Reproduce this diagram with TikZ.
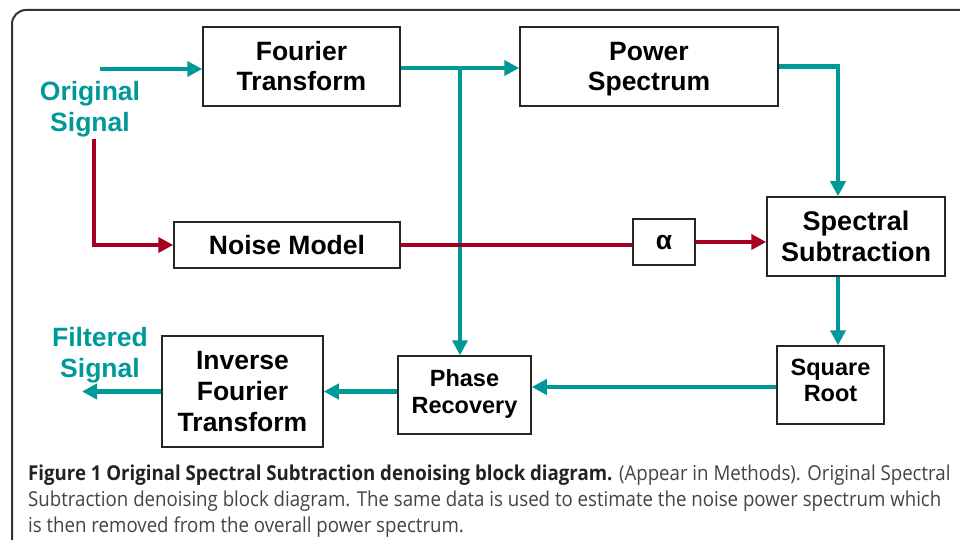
\documentclass[tikz,border=0pt]{standalone}
\usepackage{fontspec}
\setmainfont{Liberation Sans}
\newfontfamily\capfont[FakeStretch=0.91]{Open Sans}
\usetikzlibrary{arrows.meta}
\definecolor{teal1}{RGB}{0,153,153}
\definecolor{red1}{RGB}{165,0,33}
\definecolor{capgray}{RGB}{68,68,68}
\definecolor{capdark}{RGB}{34,34,34}
\newcommand\nodepth[1]{\raisebox{0pt}[\height][0pt]{#1}}
\tikzset{
  blk/.style={draw=black!85, line width=1.5pt, fill=white, align=center, font=\fontsize{26.5}{30}\selectfont\bfseries, inner sep=0pt},
  sblk/.style={blk, font=\fontsize{23.5}{26}\selectfont\bfseries},
  tarr/.style={draw=teal1, line width=4.5pt, -{Triangle[length=15pt,width=15pt]}},
  rarr/.style={draw=red1, line width=4.5pt, -{Triangle[length=15pt,width=15pt]}},
  sig/.style={text=teal1, align=center, font=\fontsize{26.5}{31}\selectfont\bfseries, inner sep=0pt},
  captext/.style={anchor=base west, inner sep=0pt, font=\capfont\fontsize{20.5}{24}\selectfont, text=capgray}
}
\begin{document}
\begin{tikzpicture}[x=1pt,y=-1pt]
\useasboundingbox (0,0) rectangle (960,540);
\fill[white] (0,0) rectangle (960,540);
\draw[black!80, line width=2pt, rounded corners=14pt] (12,560) -- (12,10) -- (980,10);

\node[blk, minimum width=197pt, minimum height=79pt] (ft) at (301.5,66.5) {Fourier\\Transform};
\node[blk, minimum width=258pt, minimum height=79pt] (ps) at (649,66.5) {Power\\\nodepth{Spectrum}};
\node[blk, minimum width=226pt, minimum height=46pt] (nm) at (287,245) {Noise Model};
\node[blk, minimum width=62pt, minimum height=46pt] (al) at (664,242) {α};
\node[blk, font=\fontsize{27}{31}\selectfont\bfseries, minimum width=178pt, minimum height=79pt] (ss) at (856,236.5) {Spectral\\Subtraction};
\node[sblk, minimum width=107pt, minimum height=78pt] (sr) at (830.5,385) {Square\\Root\rule[-10pt]{0pt}{0pt}};
\node[sblk, font=\fontsize{23.5}{27}\selectfont\bfseries, minimum width=133pt, minimum height=78pt] (pr) at (464.5,395) {Phase\\Recovery\rule[-8pt]{0pt}{0pt}};
\node[blk, font=\fontsize{26.5}{31}\selectfont\bfseries, minimum width=161pt, minimum height=111pt] (ift) at (242.5,391.5) {Inverse\\Fourier\\Transform};

\node[sig] (os) at (90,109.5) {Original\\Signal};
\node[sig] (fs) at (100,355.5) {Filtered\\Signal};

\coordinate (osin) at (100,69);
\coordinate (osdown) at (94,139);
\coordinate (jn) at (460,68);
\coordinate (colx) at (838,0);
\coordinate (out) at (82,392);

\draw[tarr] (osin) -- (osin -| ft.west);
\draw[rarr] (osdown) |- (nm.west);
\draw[tarr] (ft.east |- jn) -- (jn -| ps.west);
\draw[tarr] (jn) -- (jn |- pr.north);
\draw[tarr] (ps.east) -| (colx |- ss.north);
\draw[red1, line width=4.5pt] (nm.east) -- (nm.east -| al.west);
\draw[rarr] (al.east) -- (al.east -| ss.west);
\draw[tarr] (colx |- ss.south) -- (colx |- sr.north);
\draw[tarr] (sr.west |- 0,387) -- (pr.east |- 0,387);
\draw[tarr] (pr.west |- ift.east) -- (ift.east);
\draw[tarr] (ift.west) -- (ift.west -| out);

\node[captext] (c1) at (28,480) {{\bfseries\color{capdark}Figure 1 Original Spectral Subtraction denoising block diagram.} (Appear in Methods). Original Spectral};
\node[captext] (c2) at (28,506) {Subtraction denoising block diagram. The same data is used to estimate the noise power spectrum which};
\node[captext] (c3) at (28,532) {is then removed from the overall power spectrum.};
\end{tikzpicture}
\end{document}
